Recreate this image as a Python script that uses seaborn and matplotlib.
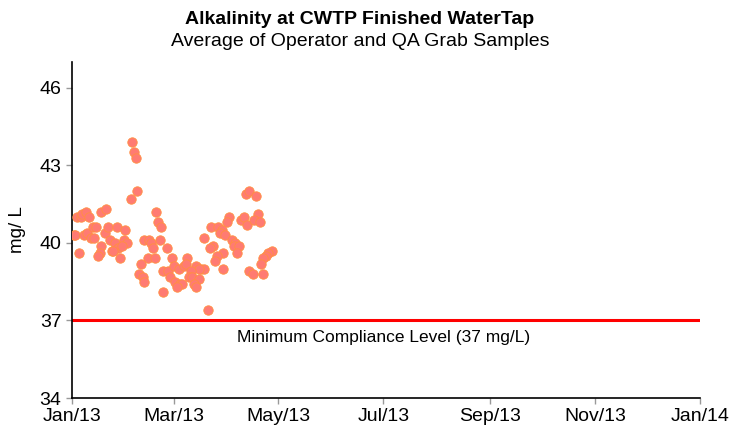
import matplotlib
matplotlib.use('Agg')
import matplotlib.pyplot as plt
import matplotlib.dates as mdates
import pandas as pd
import seaborn as sns

# days after Jan 1 2013 and alkalinity (mg/L)
sample_day = [3, 5, 6, 8, 10, 17, 20, 34, 1, 2, 7, 9, 11, 13, 12, 14, 19, 21, 26, 31,
              4, 17, 16, 15, 22, 25, 27, 23, 24, 28, 30, 32, 29,
              35, 36, 37, 38, 49, 50, 52, 42, 45, 46, 47, 51, 55, 44, 48, 40, 39,
              41, 42, 58, 53, 56, 57, 59, 62, 65, 67, 66, 60, 63, 64, 61, 53,
              91, 90, 98, 81, 85, 87, 86, 89, 77, 93, 95, 94, 97, 82, 80, 96, 88,
              84, 83, 88, 72, 75, 77, 74, 69, 68, 70, 74, 71, 72, 79,
              101, 103, 107, 100, 102, 108, 106, 109, 116, 114, 113, 111, 110,
              103, 105, 111]
alkalinity = [41.0, 41.0, 41.1, 41.2, 41.0, 41.2, 41.3, 41.7, 40.3, 40.3, 40.3, 40.4, 40.2, 40.2, 40.6, 40.6, 40.4, 40.6, 40.6, 40.5,
              39.6, 39.9, 39.6, 39.5, 40.1, 40.0, 39.8, 39.7, 39.7, 39.4, 40.1, 40.0, 39.9,
              43.9, 43.5, 43.3, 42.0, 41.2, 40.8, 40.6, 40.1, 40.1, 40.0, 39.8, 40.1, 39.8, 39.4, 39.4, 39.2, 38.8,
              38.7, 38.5, 39.4, 38.9, 38.9, 38.7, 39.1, 39.0, 39.1, 39.4, 39.2, 38.5, 38.4, 38.4, 38.3, 38.1,
              41.0, 40.8, 40.9, 40.6, 40.6, 40.5, 40.4, 40.3, 40.2, 40.1, 40.0, 39.9, 39.9, 39.9, 39.8, 39.6, 39.6,
              39.5, 39.3, 39.0, 39.1, 39.0, 39.0, 39.0, 38.9, 38.7, 38.7, 38.6, 38.4, 38.3, 37.4,
              41.9, 42.0, 41.8, 41.0, 40.7, 41.1, 40.9, 40.8, 39.7, 39.6, 39.5, 39.4, 39.2,
              38.9, 38.8, 38.8]

min_level = 37
tick_months = ['2013-01-01', '2013-03-01', '2013-05-01', '2013-07-01',
               '2013-09-01', '2013-11-01', '2014-01-01']
y_ticks = [34, 37, 40, 43, 46]

df = pd.DataFrame({'date': pd.Timestamp('2013-01-01') + pd.to_timedelta(sample_day, unit='D'),
                   'value': alkalinity})

sns.set_style('white')
plt.rcParams['font.family'] = ['Liberation Sans', 'DejaVu Sans']
plt.rcParams['text.color'] = 'black'
plt.rcParams['axes.labelcolor'] = 'black'

fig = plt.figure(figsize=(7.31, 4.32), dpi=100)
ax = fig.add_axes([0.0985, 0.0787, 0.8591, 0.7778])

sns.scatterplot(data=df, x='date', y='value', ax=ax, s=46,
                color='#ff7b72', edgecolor='#ff9040', linewidth=0.6, zorder=3)

ax.axhline(min_level, color='#ff0000', lw=2.2, zorder=2)
ax.text(pd.Timestamp('2013-07-01'), min_level - 0.35, 'Minimum Compliance Level (37 mg/L)',
        ha='center', va='top', fontsize=12.5)

ax.set_xlim(pd.Timestamp('2013-01-01'), pd.Timestamp('2014-01-01'))
ax.set_ylim(34, 47)
ax.set_xticks(pd.to_datetime(tick_months))
ax.xaxis.set_major_formatter(mdates.DateFormatter('%b/%y'))
ax.set_yticks(y_ticks)
ax.tick_params(axis='both', labelsize=14, length=4, width=1, color='#999999',
               labelcolor='black', direction='out', bottom=True, left=True)
ax.set_xlabel('')
ax.set_ylabel('mg/ L', fontsize=13.5, labelpad=10)

for side in ['top', 'right']:
    ax.spines[side].set_visible(False)
for side in ['left', 'bottom']:
    ax.spines[side].set_color('black')
    ax.spines[side].set_linewidth(1.2)

fig.text(0.4925, 0.955, 'Alkalinity at CWTP Finished WaterTap', ha='center', va='center',
         fontsize=14, fontweight='bold')
fig.text(0.4925, 0.903, 'Average of Operator and QA Grab Samples', ha='center', va='center',
         fontsize=14)

fig.savefig('out.png', dpi=100)
